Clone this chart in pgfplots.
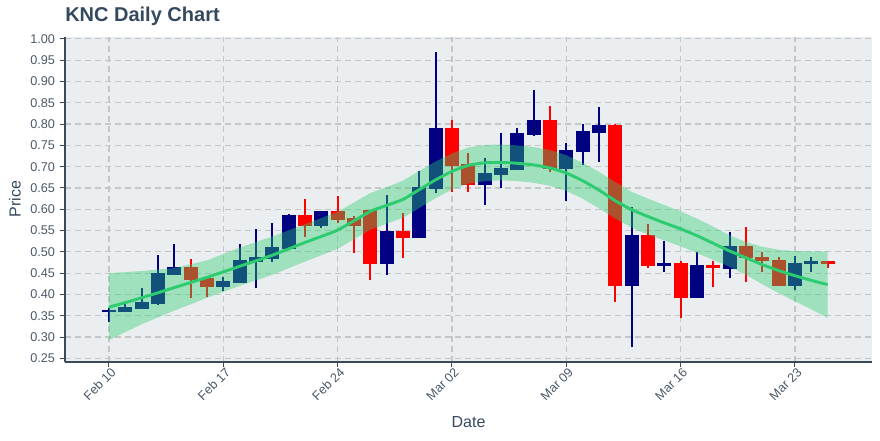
\documentclass[border=0pt]{standalone}
\usepackage{pgfplots}
\pgfplotsset{compat=1.18}
\usepackage{pgfplotstable}
\usepgfplotslibrary{fillbetween}
\usepackage{fontspec}
\setmainfont{Liberation Sans}

\definecolor{upc}{HTML}{000080}
\definecolor{downc}{HTML}{FF0000}
\definecolor{bandc}{HTML}{2ECC71}
\definecolor{bgc}{HTML}{EBEEF0}
\definecolor{gridc}{HTML}{C4C6C8}
\definecolor{axc}{HTML}{3B4A5A}
\definecolor{titlec}{HTML}{34495E}
\definecolor{labc}{HTML}{4A5968}

% day 0 = Feb 10
\pgfplotstableread{
d  o     h      l     c
0  0.360 0.3675 0.336 0.361
1  0.362 0.378  0.362 0.368
2  0.369 0.414  0.366 0.381
3  0.381 0.493  0.375 0.448
4  0.448 0.518  0.447 0.462
7  0.420 0.442  0.408 0.429
8  0.430 0.518  0.429 0.479
9  0.479 0.553  0.414 0.486
10 0.486 0.567  0.476 0.508
11 0.510 0.588  0.508 0.584
13 0.564 0.596  0.556 0.594
17 0.475 0.634  0.446 0.547
19 0.534 0.690  0.532 0.650
20 0.650 0.969  0.639 0.789
23 0.659 0.720  0.611 0.683
24 0.683 0.780  0.651 0.695
25 0.695 0.790  0.694 0.777
26 0.777 0.880  0.772 0.807
28 0.698 0.756  0.620 0.737
29 0.737 0.800  0.704 0.782
30 0.782 0.840  0.710 0.796
32 0.423 0.605  0.276 0.537
34 0.470 0.526  0.452 0.472
36 0.395 0.500  0.391 0.467
38 0.463 0.547  0.439 0.512
42 0.423 0.490  0.411 0.472
43 0.474 0.487  0.453 0.476
}\up

\pgfplotstableread{
d  o     h     l     c
5  0.462 0.484 0.392 0.437
6  0.437 0.438 0.395 0.420
12 0.584 0.624 0.536 0.564
14 0.594 0.631 0.567 0.578
15 0.578 0.584 0.497 0.562
16 0.595 0.598 0.434 0.475
18 0.547 0.592 0.486 0.534
21 0.789 0.810 0.641 0.704
22 0.704 0.733 0.641 0.659
27 0.807 0.843 0.688 0.698
31 0.796 0.800 0.383 0.423
33 0.537 0.566 0.461 0.470
35 0.472 0.479 0.344 0.395
37 0.467 0.479 0.418 0.465
39 0.512 0.559 0.430 0.487
40 0.486 0.500 0.453 0.480
41 0.479 0.489 0.420 0.423
44 0.477 0.477 0.461 0.475
}\down

% moving average with band
\pgfplotstableread{
d  ma    top   bot
0  0.370 0.450 0.293
2  0.392 0.455 0.330
4  0.416 0.462 0.362
6  0.440 0.480 0.392
8  0.466 0.510 0.420
10 0.492 0.536 0.446
12 0.522 0.565 0.477
14 0.551 0.594 0.507
16 0.595 0.638 0.552
17 0.609 0.652 0.566
18 0.623 0.667 0.580
19 0.646 0.690 0.603
20 0.669 0.712 0.626
21 0.689 0.731 0.646
22 0.703 0.745 0.660
23 0.709 0.751 0.666
24 0.710 0.752 0.668
25 0.708 0.750 0.666
26 0.704 0.746 0.662
27 0.697 0.739 0.655
28 0.685 0.727 0.643
29 0.667 0.709 0.625
30 0.645 0.688 0.602
31 0.620 0.664 0.578
32 0.599 0.641 0.557
33 0.583 0.625 0.540
34 0.568 0.610 0.527
35 0.554 0.595 0.513
36 0.538 0.578 0.497
37 0.520 0.559 0.481
38 0.502 0.539 0.465
39 0.486 0.523 0.446
40 0.470 0.512 0.424
41 0.456 0.505 0.403
42 0.444 0.502 0.384
43 0.433 0.501 0.365
44 0.423 0.501 0.345
}\ma

\tikzset{fill between/on layer=main}

\begin{document}
\begin{tikzpicture}
\begin{axis}[
  name=ax,
  scale only axis,
  width=605.25pt, height=243.75pt,
  xmin=-2.69, xmax=46.72, ymin=0.242, ymax=1.005,
  axis background/.style={fill=bgc},
  axis x line*=bottom, axis y line*=left,
  axis line style={axc, line width=1.3pt, -},
  tick align=outside, major tick length=4pt,
  tick style={axc, line width=0.8pt},
  xtick={0,7,14,21,28,35,42},
  xticklabels={Feb 10,Feb 17,Feb 24,Mar 02,Mar 09,Mar 16,Mar 23},
  ytick={0.25,0.30,0.35,0.40,0.45,0.50,0.55,0.60,0.65,0.70,0.75,0.80,0.85,0.90,0.95,1.00},
  yticklabel style={/pgf/number format/.cd, fixed, fixed zerofill, precision=2, assume math mode=true},
  ticklabel style={font=\fontsize{9.5}{11}\selectfont, text=labc},
  xticklabel style={rotate=45, anchor=east, inner sep=1pt, yshift=-4pt, xshift=2pt},
  grid=major,
  major grid style={gridc, line width=0.9pt, dash pattern=on 4.5pt off 3pt},
  xlabel={Date}, ylabel={Price},
  label style={font=\fontsize{12}{14}\selectfont, text=titlec},
  xlabel style={at={(axis description cs:0.5,-0.185)}, anchor=center},
  ylabel style={at={(axis description cs:-0.062,0.5)}, anchor=center},
  title={KNC Daily Chart},
  title style={at={(axis description cs:0,1)}, anchor=west, inner sep=0pt, yshift=9.5pt,
    font=\bfseries\fontsize{15}{18}\selectfont, text=titlec},
]
% wicks
\addplot[draw=none, mark=none, error bars/.cd, y dir=plus, y explicit, error mark=none,
  error bar style={draw=upc, line width=1.5pt}]
  table[x=d, y=l, y error plus expr=\thisrow{h}-\thisrow{l}] {\up};
\addplot[draw=none, mark=none, error bars/.cd, y dir=plus, y explicit, error mark=none,
  error bar style={draw=downc, line width=1.5pt}]
  table[x=d, y=l, y error plus expr=\thisrow{h}-\thisrow{l}] {\down};
% bodies
\addplot[draw=none, mark=none, error bars/.cd, y dir=plus, y explicit, error mark=none,
  error bar style={draw=upc, line width=10.5pt}]
  table[x=d, y expr=\thisrow{o}-0.0024, y error plus expr=\thisrow{c}-\thisrow{o}+0.0048] {\up};
\addplot[draw=none, mark=none, error bars/.cd, y dir=plus, y explicit, error mark=none,
  error bar style={draw=downc, line width=10.5pt}]
  table[x=d, y expr=\thisrow{c}-0.0024, y error plus expr=\thisrow{o}-\thisrow{c}+0.0048] {\down};
% band
\addplot[name path=top, draw=none] table[x=d, y=top] {\ma};
\addplot[name path=bot, draw=none] table[x=d, y=bot] {\ma};
\addplot[fill=bandc, fill opacity=0.4, draw=none] fill between[of=top and bot];
\addplot[bandc, line width=2.2pt, smooth, tension=0.3] table[x=d, y=ma] {\ma};
\end{axis}
\path[use as bounding box] (ax.south west) ++(-48.75pt,-58.7pt) rectangle ++(660pt,330pt);
\end{tikzpicture}
\end{document}
